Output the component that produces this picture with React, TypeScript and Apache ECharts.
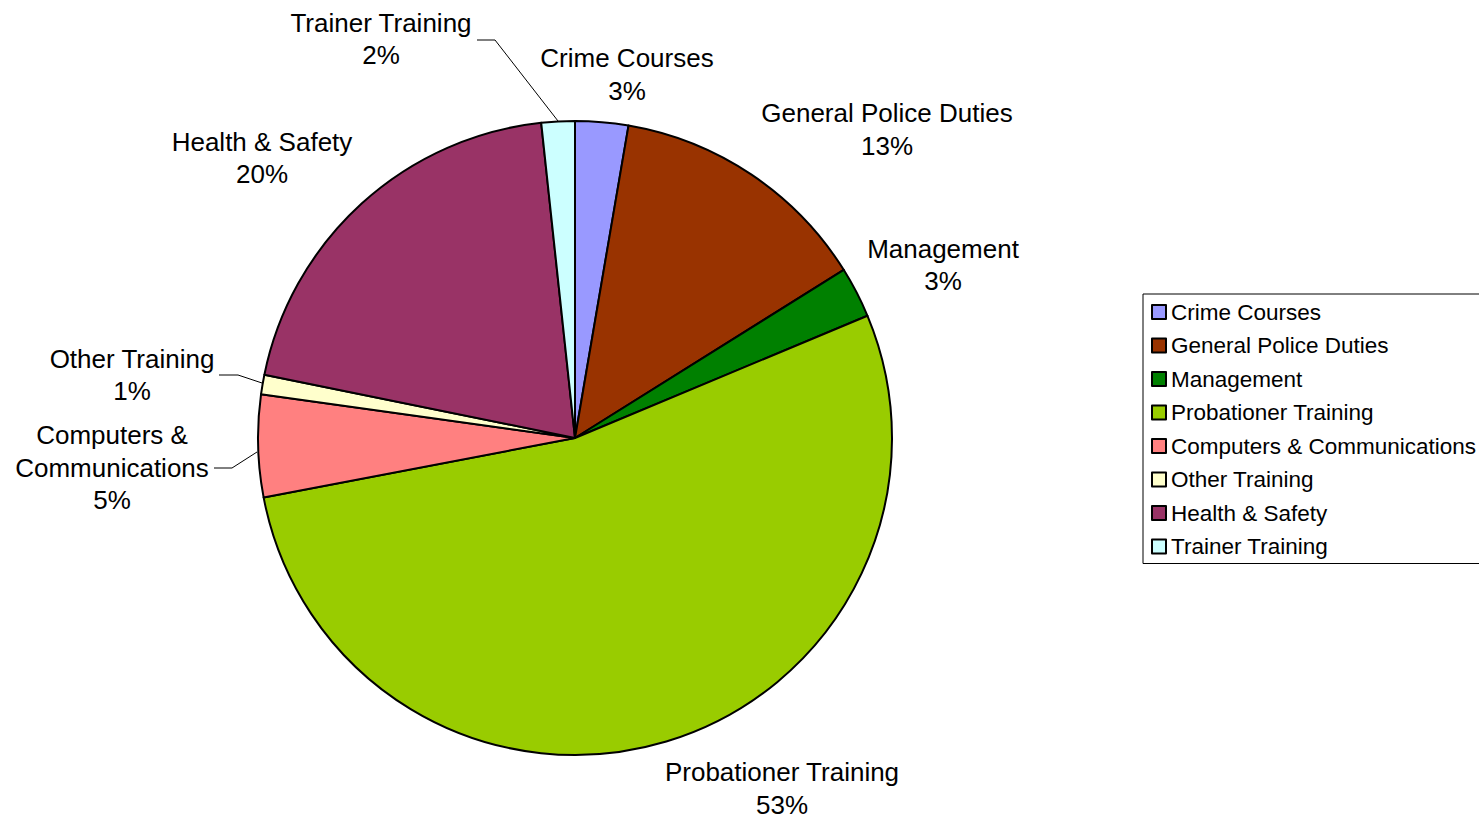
import React, { useEffect, useRef } from "react";
import * as echarts from "echarts";

const categories = [
  "Crime Courses",
  "General Police Duties",
  "Management",
  "Probationer Training",
  "Computers & Communications",
  "Other Training",
  "Health & Safety",
  "Trainer Training",
];
const values = [2.7, 13.4, 2.6, 53.3, 5.2, 1.0, 20.1, 1.7];
const colors = ["#9999FF", "#993300", "#008000", "#99CC00", "#FF8080", "#FFFFCC", "#993366", "#CCFFFF"];
const labelNames = [
  "Crime Courses",
  "General Police Duties",
  "Management",
  "Probationer Training",
  "Computers &\nCommunications",
  "Other Training",
  "Health & Safety",
  "Trainer Training",
];

// label placement (layout only)
const labelPos: [number, number][] = [
  [627, 74.5],
  [887, 129.5],
  [943, 265],
  [782, 788.5],
  [112, 467.5],
  [132, 375],
  [262, 158],
  [381, 39],
];
const leaderLines: Record<number, number[][]> = {
  4: [[257, 452], [232, 468], [214, 468]],
  5: [[262, 383], [238, 375], [219, 375]],
  7: [[558, 121], [495, 40], [477, 40]],
};

const FONT = '"Liberation Sans", Arial, sans-serif';

export default function App() {
  const ref = useRef<HTMLDivElement>(null);
  useEffect(() => {
    if (!ref.current) return;
    const chart = echarts.init(ref.current, null, { renderer: "svg" });
    chart.setOption({
      animation: false,
      backgroundColor: "#ffffff",
      legend: {
        orient: "vertical",
        left: 1143,
        top: 294,
        padding: [6, 6, 5, 8],
        borderColor: "#000",
        borderWidth: 1,
        borderRadius: 0,
        icon: "rect",
        itemWidth: 14,
        itemHeight: 14,
        itemGap: 9.5,
        itemStyle: { borderColor: "#000", borderWidth: 2 },
        textStyle: { fontFamily: FONT, fontSize: 22.5, color: "#000", lineHeight: 24 },
        selectedMode: false,
        data: categories,
      },
      series: [
        {
          type: "pie",
          center: [575, 438],
          radius: [0, 317],
          startAngle: 90,
          clockwise: true,
          percentPrecision: 0,
          avoidLabelOverlap: false,
          emphasis: { disabled: true },
          itemStyle: { borderColor: "#000", borderWidth: 2 },
          label: {
            show: true,
            position: "outside",
            fontFamily: FONT,
            fontSize: 26,
            lineHeight: 32.5,
            color: "#000",
            align: "center",
            formatter: (p: any) => `${labelNames[p.dataIndex]}\n${p.percent}%`,
          },
          labelLine: { show: false, lineStyle: { color: "#000", width: 1 } },
          labelLayout: (p: any) => {
            const i = p.dataIndex;
            const res: any = {
              x: labelPos[i][0],
              y: labelPos[i][1],
              align: "center",
              verticalAlign: "middle",
            };
            if (leaderLines[i]) res.labelLinePoints = leaderLines[i];
            return res;
          },
          data: categories.map((c, i) => ({
            name: c,
            value: values[i],
            itemStyle: { color: colors[i] },
            labelLine: { show: !!leaderLines[i], smooth: false },
          })),
        },
      ],
    });
    return () => chart.dispose();
  }, []);
  return (
    <div
      ref={ref}
      style={{ position: "fixed", left: 0, top: 0, width: 1479, height: 819 }}
    />
  );
}
